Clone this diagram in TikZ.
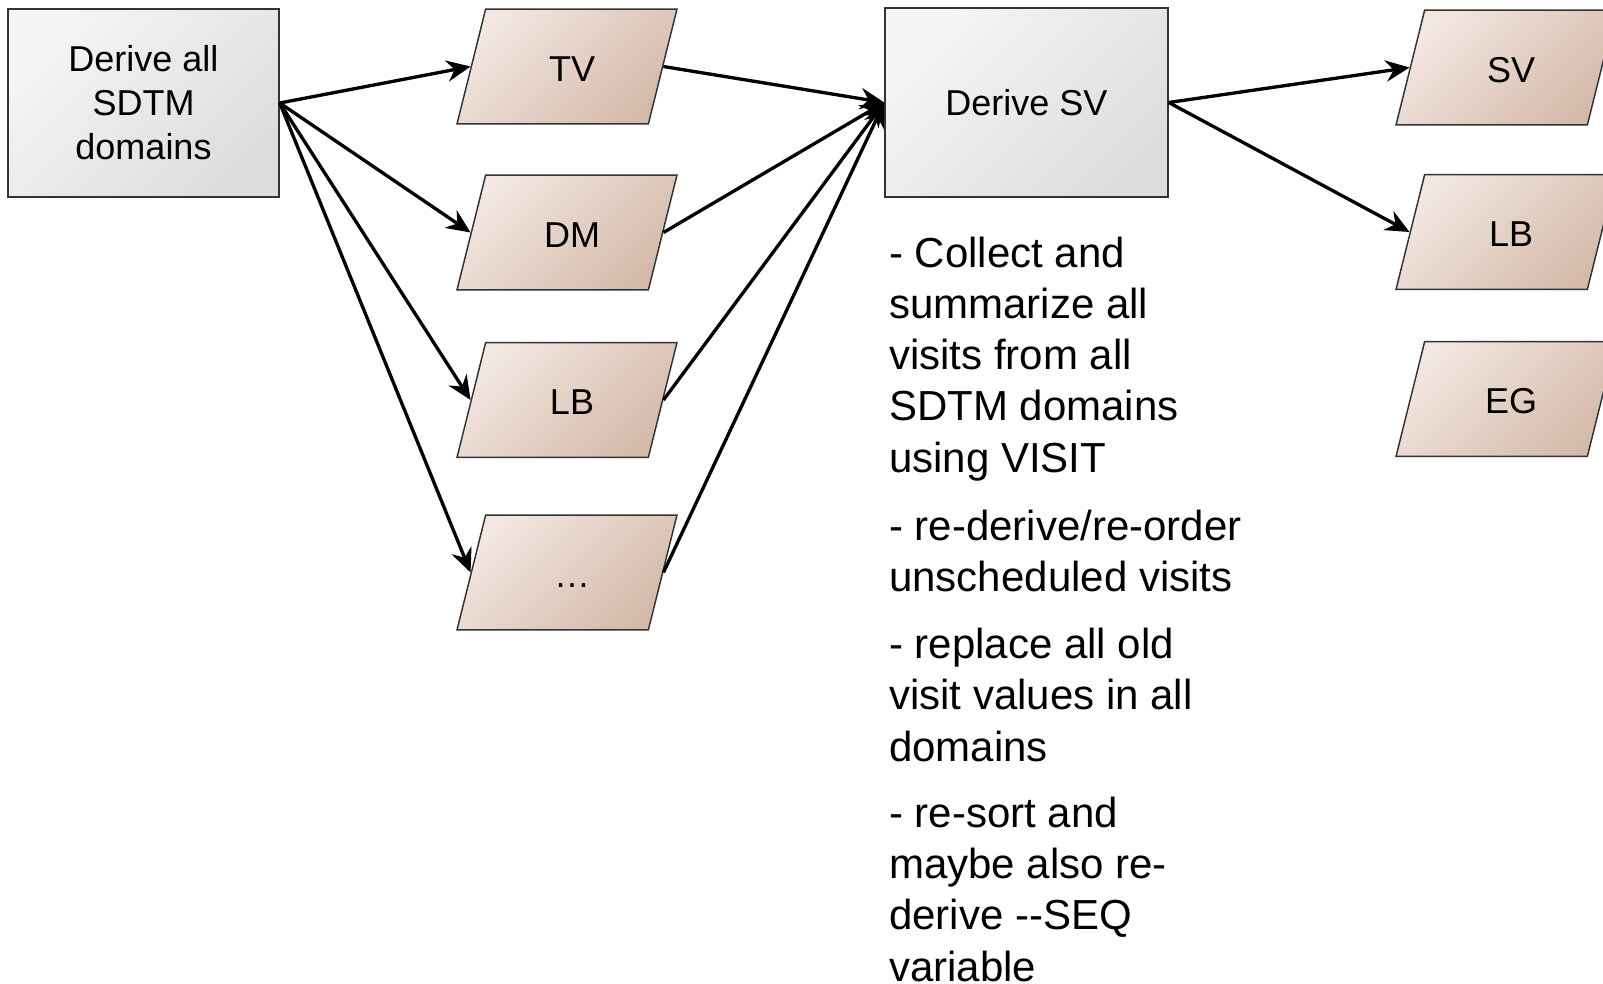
\documentclass[tikz,border=0pt]{standalone}
\usepackage{fontspec}
\setmainfont{Liberation Sans}
\usetikzlibrary{shapes.geometric,arrows.meta}
\definecolor{boxtop}{HTML}{F5F5F5}
\definecolor{boxbot}{HTML}{DDDDDD}
\definecolor{datatop}{HTML}{F2E7E1}
\definecolor{databot}{HTML}{D5BAAA}
\definecolor{edge}{HTML}{333333}
\tikzset{
  process/.style = {draw=edge, line width=1.1pt, rectangle, top color=boxtop, bottom color=boxbot, shading angle=45,
    align=center, font=\fontsize{27pt}{33pt}\selectfont},
  dataset/.style = {draw=edge, line width=1.1pt, trapezium, trapezium left angle=76, trapezium right angle=104,
    trapezium stretches body=true, minimum width=165pt, inner xsep=0pt, inner ysep=30.1pt,
    text height=24pt, text depth=2pt, execute at begin node={\hspace*{7.5pt}},
    top color=datatop, bottom color=databot, shading angle=45, font=\fontsize{27pt}{33pt}\selectfont},
  flow/.style = {line width=2.5pt, -{Stealth[length=18pt, width=16pt, inset=6pt]}},
  note/.style = {anchor=base west, align=left, inner sep=0pt, font=\fontsize{31.5pt}{38.3pt}\selectfont}
}
\begin{document}
\begin{tikzpicture}[x=0.75pt, y=-0.75pt]
  \useasboundingbox (0,0) rectangle (1603,983);
  \clip (0,0) rectangle (1603,983);
  %--- Processes
  \node[process, minimum width=203.25pt, minimum height=141pt] (deriveall) at (143.5,103) {Derive all\\SDTM\\domains};
  \node[process, minimum width=212.25pt, minimum height=141.75pt] (derivesv) at (1026.5,102.5) {Derive SV};
  %--- Input domains
  \node[dataset] (tv) at (567,66.5) {TV};
  \node[dataset] (dm) at (567,232.5) {DM};
  \node[dataset] (lb) at (567,400) {LB};
  \node[dataset] (etc) at (567,572.5) {…};
  %--- Output domains
  \node[dataset] (svout) at (1506,67.5) {SV};
  \node[dataset] (lbout) at (1506,232) {LB};
  \node[dataset] (egout) at (1506,399) {EG};
  %--- Flows
  \draw[flow] (deriveall.east) -- (tv.left side);
  \draw[flow] (deriveall.east) -- (dm.left side);
  \draw[flow] (deriveall.east) -- (lb.left side);
  \draw[flow] (deriveall.east) -- (etc.left side);
  \draw[flow] (tv.right side) -- (derivesv.west);
  \draw[flow] (dm.right side) -- (derivesv.west);
  \draw[flow] (lb.right side) -- (derivesv.west);
  \draw[flow] (etc.right side) -- (derivesv.west);
  \draw[flow] (derivesv.east) -- (svout.left side);
  \draw[flow] (derivesv.east) -- (lbout.left side);
  %--- Notes (anchored at the last line)
  \node[note] (step1) at (889,472) {- Collect and\\summarize all\\visits from all\\SDTM domains\\using VISIT};
  \node[note] (step2) at (889,591.5) {- re-derive/re-order\\unscheduled visits};
  \node[note] (step3) at (889,761) {- replace all old\\visit values in all\\domains};
  \node[note] (step4) at (889,981) {- re-sort and\\maybe also re-\\derive -{}-SEQ\\variable};
\end{tikzpicture}
\end{document}
